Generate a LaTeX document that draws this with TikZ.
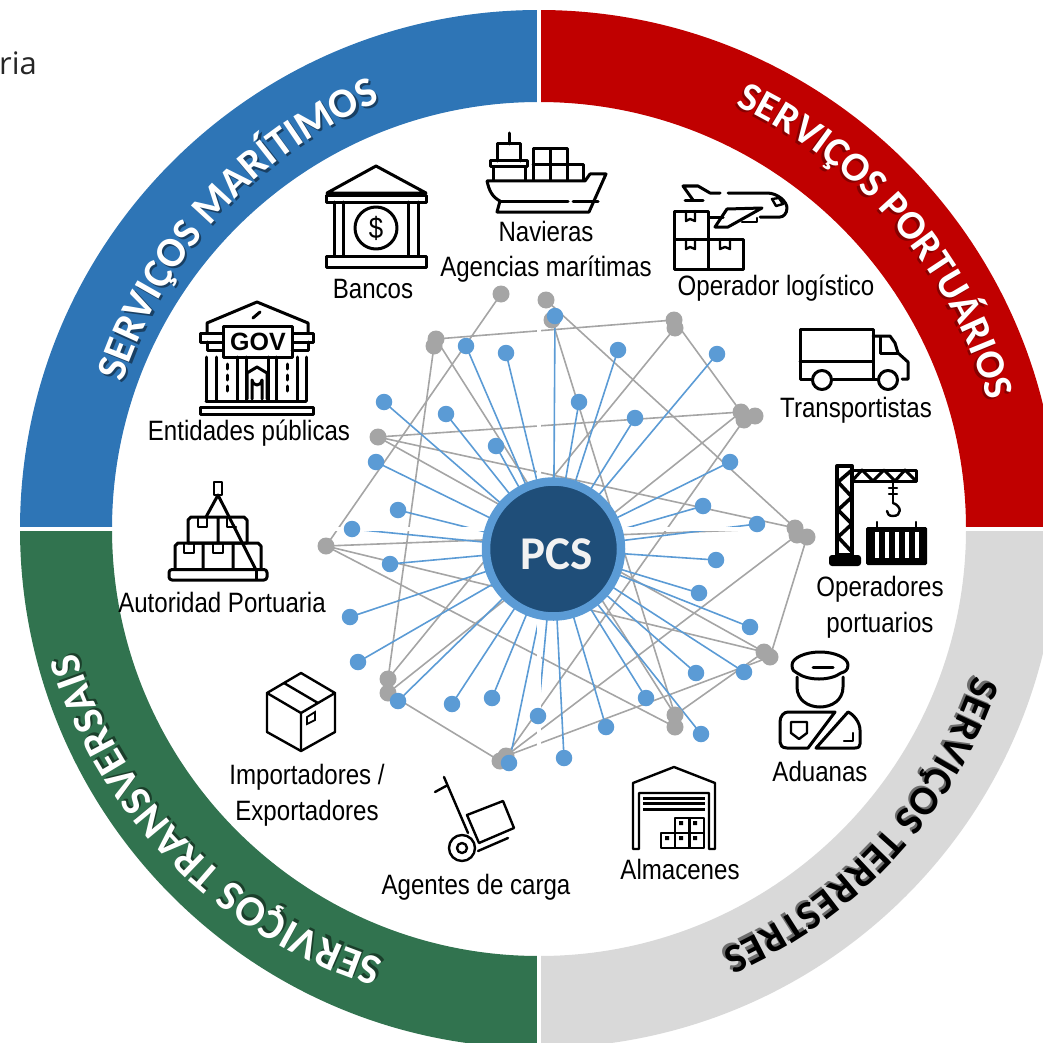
\documentclass[tikz,border=0pt]{standalone}
\usepackage{fontspec}
\setmainfont[FakeStretch=0.86]{Liberation Sans}
\newfontfamily\ringfont{Carlito}
\newfontfamily\riafont{Open Sans}
\newfontfamily\govfont{Liberation Sans}
\usetikzlibrary{decorations.text,backgrounds}
\definecolor{bandblue}{HTML}{2E75B6}
\definecolor{bandred}{HTML}{C00000}
\definecolor{bandgray}{HTML}{D9D9D9}
\definecolor{bandgreen}{HTML}{31734F}
\definecolor{dotblue}{HTML}{5B9BD5}
\definecolor{dotgray}{HTML}{A5A5A5}
\definecolor{pcsfill}{HTML}{1F4E79}
\tikzset{
  bluedot/.style={circle,fill=dotblue,minimum size=16.5pt,inner sep=0pt},
  graydot/.style={circle,fill=dotgray,minimum size=17pt,inner sep=0pt},
  blueedge/.style={draw=dotblue,line width=1.6pt},
  grayedge/.style={draw=dotgray,line width=1.6pt},
  lab/.style={font=\fontsize{28}{30}\selectfont,text=black,inner sep=0pt,anchor=center},
  icon/.style={draw=black,line width=3pt,line join=round,line cap=round},
  iconthin/.style={draw=black,line width=2.4pt,line join=round,line cap=round},
}
\newcommand{\ringpath}[5]{% angle, radius, size, text colour, text
  \path[decorate,decoration={text along path,text align=center,text color=#4,
     text={|\ringfont\bfseries\fontsize{#3}{#3}\selectfont|#5}}]
     ({#1+50}:#2) arc[start angle={#1+50},end angle={#1-50},radius=#2];}
% angle, centre dx, centre dy, radius, size, shadow colour, text colour, text
\newcommand{\ringlabel}[8]{%
  \begin{scope}[shift={(#2,#3)}]
  \pgfmathsetmacro{\shadowr}{#4-3}
  \ringpath{#1}{\shadowr}{#5}{#6}{#8}
  \ringpath{#1}{#4}{#5}{#7}{#8}
  \end{scope}}
\begin{document}
\begin{tikzpicture}[x=1pt,y=-1pt]
\useasboundingbox (0,0) rectangle (1043,1043);
\clip (0,0) rectangle (1043,1043);
% ---------- ring
\begin{scope}[shift={(539,529)},x=1pt,y=1pt]
  \fill[bandred]  (0:519) arc[start angle=0,end angle=90,radius=519] -- (90:427) arc[start angle=90,end angle=0,radius=427] -- cycle;
  \fill[bandblue] (90:519) arc[start angle=90,end angle=180,radius=519] -- (180:427) arc[start angle=180,end angle=90,radius=427] -- cycle;
  \fill[bandgreen] (180:519) arc[start angle=180,end angle=270,radius=519] -- (270:427) arc[start angle=270,end angle=180,radius=427] -- cycle;
  \fill[bandgray] (270:519) arc[start angle=270,end angle=360,radius=519] -- (0:427) arc[start angle=0,end angle=-90,radius=427] -- cycle;
  \draw[white,line width=3.5pt] (-530,0) -- (530,0) (0,-530) -- (0,530);
  \ringlabel{137.5}{20}{5}{459}{42}{bandblue!55!black}{white}{SERVIÇOS MARÍTIMOS}
  \ringlabel{40.5}{0}{0}{467}{41}{bandred!70!black}{white}{SERVIÇOS PORTUÁRIOS}
  \ringlabel{-42.6}{0}{0}{459}{41}{bandgray!50!black}{black}{SERVIÇOS TERRESTRES}
  \ringlabel{225}{-23}{9}{459}{43}{bandgreen!55!black}{white}{SERVIÇOS TRANSVERSAIS}
\end{scope}
\node[inner sep=0pt,anchor=base west,text=black!85,font=\riafont\fontsize{31}{33}\selectfont] (ria) at (-1,75) {ria};
% ---------- network
\foreach \n/\x/\y in {a/501/294,b/546/300,c/552/320,d/436/339,e/434/346,f/378/437,g/674/320,h/675/328,i/741/412,j/744/420,k/755/416,l/795/528,m/797/535,n/807/537,o/326/546,p/388/679,q/388/693,r/506/756,s/500/761,t/764/652,u/770/657,v/675/715,w/675/727}
  \node[graydot] (g\n) at (\x,\y) {};
\foreach \n/\x/\y in {1/555/316,2/466/346,3/506/353,4/618/350,5/717/354,6/384/402,7/446/414,8/579/402,9/635/418,10/496/446,11/376/462,12/730/462,13/398/510,14/703/506,15/757/524,16/352/529,17/390/564,18/716/560,19/699/593,20/350/617,21/750/627,22/358/662,23/398/701,24/452/704,25/492/698,26/538/716,27/696/673,28/744/672,29/646/698,30/606/727,31/509/763,32/564/758,33/701/734}
  \node[bluedot] (b\n) at (\x,\y) {};
\node[circle,fill=pcsfill,draw=dotblue,line width=8.5pt,minimum size=135pt,inner sep=0pt] (hub) at (553.5,549) {};
\node[inner sep=0pt,text=black!5,font=\ringfont\bfseries\fontsize{47}{49}\selectfont] (pcs) at (557,554) {PCS};
\begin{pgfonlayer}{background}
\foreach \u/\v in {ga/go,gd/gg,ge/gp,gd/gv,gc/gv,gf/gi,gf/gl,gf/gt,gb/gl,gg/gi,gh/gp,gi/gq,gj/gr,gl/go,gm/gr,go/gt,go/gw,gq/gs,gu/gr,gt/gv,gn/gu}
  \draw[grayedge] (\u.center) -- (\v.center);
\foreach \n in {1,...,33}
  \draw[blueedge] (b\n.center) -- (hub.center);
\end{pgfonlayer}
% ---------- labels
\node[lab] (tnav) at (546,231) {Navieras};
\node[lab] (tage) at (546,269) {Agencias marítimas};
\node[lab] (tban) at (373,289) {Bancos};
\node[lab] (tope) at (776,288) {Operador logístico};
\node[lab] (ttra) at (856,410) {Transportistas};
\node[lab] (top1) at (880,589) {Operadores};
\node[lab] (top2) at (880,625) {portuarios};
\node[lab] (tadu) at (820,771) {Aduanas};
\node[lab] (talm) at (680,869) {Almacenes};
\node[lab] (tcar) at (476,887) {Agentes de carga};
\node[lab] (timp) at (307,777) {Importadores /};
\node[lab] (texp) at (307,813) {Exportadores};
\node[lab] (taut) at (222,602) {Autoridad Portuaria};
\node[lab] (tent) at (249,433) {Entidades públicas};
% ---------- bank
\draw[icon] (327,193) -- (376,166) -- (426,193) -- cycle;
\draw[icon] (326,195) rectangle (426,202);
\draw[icon] (334,202) -- (334,256) (343,202) -- (343,256) (408,202) -- (408,256) (418,202) -- (418,256);
\draw[icon] (326,256) rectangle (426,267);
\draw[icon] (376,228) circle (21);
\node[inner sep=0pt,font=\fontsize{30}{30}\selectfont] (dollar) at (376,228) {\$};
% ---------- government
\draw[icon] (207,333) -- (207,323) -- (257,302) -- (308,323) -- (308,333);
\draw[icon] (253,318) -- (260,312);
\draw[icon] (200,333) rectangle (313,342);
\draw[icon,fill=white] (223,326) rectangle (292,357);
\node[inner sep=0pt,font=\govfont\bfseries\fontsize{25}{25}\selectfont] (gov) at (258,342) {GOV};
\draw[icon] (207,342) -- (207,350) -- (223,350) (292,350) -- (308,350) -- (308,342);
\draw[icon] (206,357) -- (206,401) (216,357) -- (216,401) (237,357) -- (237,401) (246,357) -- (246,401)
            (268,357) -- (268,401) (276,357) -- (276,401) (297,357) -- (297,401) (306,357) -- (306,401);
\draw[icon,dash pattern=on 5pt off 6pt] (227,364) -- (227,394) (287,364) -- (287,394);
\draw[icon] (247,399) -- (247,373) -- (257,367) -- (267,373) -- (267,399);
\draw[icon] (252,399) -- (252,380) arc[start angle=180,end angle=0,radius=5] -- (262,399);
\draw[icon] (206,401) -- (306,401);
\draw[icon] (200,407) rectangle (313,414);
% ---------- ship
\draw[icon] (509,133) -- (509,144);
\draw[icon] (497,161) -- (497,144) -- (520,144) -- (520,161);
\draw[icon] (490,161) rectangle (527,167);
\draw[icon] (493,167) -- (493,180) (525,167) -- (525,180);
\draw[icon] (533,180) -- (533,149) -- (567,149) -- (567,180) (550,149) -- (550,180) (533,165) -- (583,165) -- (583,180);
\draw[icon] (487,181) -- (585,181) -- (590,174) -- (606,174) -- (589,212) -- (497,212) -- (500,201) .. controls (492,197) and (489,190) .. (487,181);
\draw[icon] (500,201) -- (568,201) (573,201) -- (598,201);
% ---------- plane and boxes
\draw[icon] (674,211) rectangle (708,239);
\draw[icon] (674,239) rectangle (708,269);
\draw[icon] (708,239) -- (743,239) -- (743,269) -- (708,269);
\draw[iconthin] (686,211) -- (686,221) -- (690,219) -- (695,221) -- (695,211);
\draw[iconthin] (686,239) -- (686,249) -- (690,247) -- (695,249) -- (695,239);
\draw[iconthin] (720,239) -- (720,249) -- (725,247) -- (730,249) -- (730,239);
\draw[icon] (693,200) -- (683,186) -- (698,186) -- (710,193) -- (720,193) (728,193) -- (767,193) .. controls (778,193) and (787,202) .. (787,208) .. controls (787,214) and (783,217) .. (780,217) -- (760,217);
\draw[icon] (685,200) -- (703,200) (710,217) -- (723,217);
\draw[icon] (762,208) -- (727,209) -- (715,227) -- (728,227) -- cycle;
\draw[iconthin] (742,222) -- (757,222) -- (757,218);
\draw[iconthin] (772,199) -- (779,198) -- (783,204) -- (776,206) -- cycle;
% ---------- truck
\draw[icon] (811,379) -- (800,379) -- (800,329) -- (873,329) -- (873,379);
\draw[icon] (800,361) -- (873,361);
\draw[icon] (833,379) -- (877,379);
\draw[icon] (822,380) circle (9.5);
\draw[icon] (888,380) circle (9.5);
\draw[icon] (873,336) -- (890,336) -- (895,343) -- (898,353) -- (908,362) -- (908,379) -- (902,379);
\draw[icon] (880,337) -- (880,353) -- (898,353);
% ---------- crane
\draw[icon,line width=4pt] (837,466) rectangle (852,555);
\draw[icon,line width=3.6pt] (852,470) -- (838,482) -- (852,497) -- (838,510) -- (852,524) -- (838,537) -- (852,552);
\draw[icon] (852,470) rectangle (916,481);
\draw[icon] (852,481) -- (862,470) -- (873,481) -- (884,470) -- (895,481) -- (905,470) -- (916,481);
\fill[black,rounded corners=3pt] (829,555) rectangle (861,566);
\draw[iconthin] (893,481) -- (893,503) (889,488) -- (897,488) (889,494) -- (897,494);
\draw[iconthin] (893,503) .. controls (902,506) and (902,516) .. (893,516) .. controls (889,516) and (887,514) .. (887,511);
\fill[black,rounded corners=1.5pt] (866,527) rectangle (927,565);
\draw[iconthin] (877,522) -- (877,527) (916,522) -- (916,527);
\draw[white,line width=3.5pt] (877,532) -- (877,558) (887,532) -- (887,558) (897,532) -- (897,558) (907,532) -- (907,558) (917,532) -- (917,558);
% ---------- officer
\draw[icon] (820,652) .. controls (835,652) and (848,658) .. (848,665) .. controls (848,670) and (845,672) .. (841,673) .. controls (830,681) and (808,681) .. (797,673) .. controls (794,672) and (792,670) .. (792,665) .. controls (792,658) and (805,652) .. (820,652);
\draw[icon] (813,667) -- (833,667);
\draw[icon] (797,677) -- (797,687) .. controls (797,700) and (808,707) .. (820,707) .. controls (832,707) and (843,700) .. (843,687) -- (843,677);
\draw[icon] (788,712) -- (835,712) -- (808,748) -- (787,748) .. controls (782,748) and (780,745) .. (780,742) -- (780,722) .. controls (780,716) and (784,712) .. (788,712);
\draw[icon] (848,712) -- (816,748) -- (855,748) .. controls (859,748) and (860,746) .. (860,744) -- (860,730) .. controls (860,722) and (853,714) .. (848,712);
\draw[iconthin] (791,722) -- (807,722) -- (807,733) -- (799,739) -- (791,733) -- cycle;
\draw[iconthin] (853,733) -- (853,741) -- (844,741);
% ---------- warehouse
\draw[iconthin,line cap=butt] (633,849) -- (633,783) -- (674,767) -- (715,783) -- (715,849) -- (709,849) -- (709,793) -- (639,793) -- (639,849) -- cycle;
\draw[black,line width=3pt] (643,798) -- (705,798) (643,803.5) -- (705,803.5) (643,809) -- (705,809);
\draw[iconthin,line cap=butt] (661,833) rectangle (704,848);
\draw[iconthin,line cap=butt] (675,818) rectangle (704,833);
\draw[iconthin,line cap=butt] (675,818) -- (675,848) (689.5,818) -- (689.5,848);
\fill[black] (665,836) rectangle (669,840) (679,836) rectangle (683,840) (693,836) rectangle (697,840) (679,821) rectangle (683,825) (693,821) rectangle (697,825);
% ---------- pallet
\draw[iconthin] (214,482) rectangle (222,495);
\draw[icon] (206,517) -- (218,495) -- (256,570);
\draw[icon] (218,543) -- (188,543) -- (188,520) -- (191,517) -- (244,517) -- (247,520) -- (247,543) -- (218,543) -- (218,517);
\draw[iconthin] (198,517) -- (198,527) -- (207,527) -- (207,517) (227,517) -- (227,527) -- (236,527);
\draw[icon] (175,569) -- (175,546) -- (178,543) -- (258,543) -- (261,546) -- (261,569) (203,543) -- (203,569) (233,543) -- (233,569);
\draw[iconthin] (184,543) -- (184,553) -- (194,553) -- (194,543) (213,543) -- (213,553) -- (223,553) -- (223,543);
\draw[icon,rounded corners=3pt] (169,569.5) rectangle (267,580);
\draw[icon] (256,570) -- (256,579);
% ---------- box
\draw[iconthin] (301,673) -- (335,693) -- (335,732) -- (301,751) -- (267,732) -- (267,693) -- cycle;
\draw[iconthin] (267,693) -- (301,713) -- (335,693) (301,713) -- (301,751) (284,683) -- (318,703);
\draw[line width=1.8pt] (307,717) -- (315,712) -- (315,720) -- (307,724) -- cycle;
% ---------- hand truck
\draw[iconthin] (435,792) -- (446,786) (444,777) -- (468,833);
\draw[iconthin] (462,848) circle (13);
\draw[iconthin] (462,848) circle (5);
\draw[iconthin] (467,815) -- (503,801) -- (514,828) -- (479,843) -- cycle;
\draw[iconthin] (478,851) -- (508,838);
\end{tikzpicture}
\end{document}
